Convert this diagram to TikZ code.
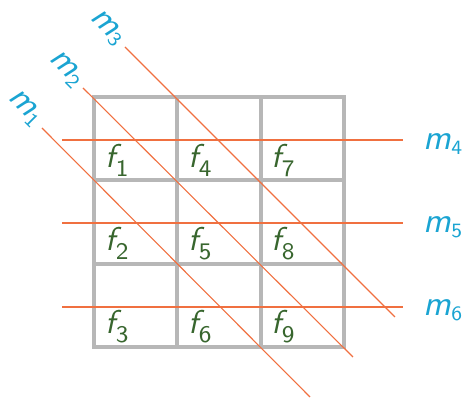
\documentclass[tikz,border=0pt]{standalone}
\usepackage{fontspec}
\usepackage{xcolor}
\definecolor{gridgray}{RGB}{183,183,183}
\definecolor{lineorange}{RGB}{240,112,64}
\definecolor{labelcyan}{RGB}{26,164,210}
\definecolor{fgreen}{RGB}{56,102,46}
\newcommand{\flab}[1]{{\itshape f}\raisebox{-2.6pt}{\fontsize{7.2}{8}\selectfont #1}}
\newcommand{\mlab}[1]{{\itshape m}\raisebox{-1.2pt}{\fontsize{5.8}{6}\selectfont #1}}

\begin{document}
\begin{tikzpicture}[x=1pt, y=1pt,
  gridline/.style={line width=4pt, color=gridgray},
  hline/.style={line width=1.8pt, color=lineorange},
  dline/.style={line width=1.1pt, color=lineorange},
  flabel/.style={anchor=base west, inner sep=0pt, color=fgreen, scale=3.3,
                 font=\sffamily\fontsize{10}{12}\selectfont},
  mlabel/.style={inner sep=0pt, color=labelcyan, scale=3.5,
                 font=\sffamily\fontsize{10}{12}\selectfont}
]
  \useasboundingbox (0,0) rectangle (466,398);

  % grid
  \draw[gridline] (94,51) rectangle (344,301);
  \draw[gridline] (177.3,51) -- (177.3,301);
  \draw[gridline] (260.7,51) -- (260.7,301);
  \draw[gridline] (94,134.3) -- (344,134.3);
  \draw[gridline] (94,217.7) -- (344,217.7);

  % cell labels
  \node[flabel] (f1) at (105,230) {\flab{1}};
  \node[flabel] (f2) at (105,147) {\flab{2}};
  \node[flabel] (f3) at (105,64)  {\flab{3}};
  \node[flabel] (f4) at (188,230) {\flab{4}};
  \node[flabel] (f5) at (188,147) {\flab{5}};
  \node[flabel] (f6) at (188,64)  {\flab{6}};
  \node[flabel] (f7) at (271,230) {\flab{7}};
  \node[flabel] (f8) at (271,147) {\flab{8}};
  \node[flabel] (f9) at (271,64)  {\flab{9}};

  % horizontal lines
  \coordinate (h4a) at (62,258);  \coordinate (h4b) at (403,258);
  \coordinate (h5a) at (62,175);  \coordinate (h5b) at (403,175);
  \coordinate (h6a) at (62,91);   \coordinate (h6b) at (403,91);
  \draw[hline] (h4a) -- (h4b);
  \draw[hline] (h5a) -- (h5b);
  \draw[hline] (h6a) -- (h6b);
  \node[mlabel, anchor=base west] (m4) at (423,248) {\mlab{4}};
  \node[mlabel, anchor=base west] (m5) at (423,165) {\mlab{5}};
  \node[mlabel, anchor=base west] (m6) at (423,82)  {\mlab{6}};

  % diagonal lines
  \coordinate (d1a) at (42,270);  \coordinate (d1b) at (310,1);
  \coordinate (d2a) at (83,310);  \coordinate (d2b) at (353,41);
  \coordinate (d3a) at (125,351); \coordinate (d3b) at (395,81);
  \draw[dline] (d1a) -- (d1b);
  \draw[dline] (d2a) -- (d2b);
  \draw[dline] (d3a) -- (d3b);
  \node[mlabel, rotate=-45] (m1) at (25,290)  {\mlab{1}};
  \node[mlabel, rotate=-45] (m2) at (66,329)  {\mlab{2}};
  \node[mlabel, rotate=-45] (m3) at (107,370) {\mlab{3}};
\end{tikzpicture}
\end{document}
